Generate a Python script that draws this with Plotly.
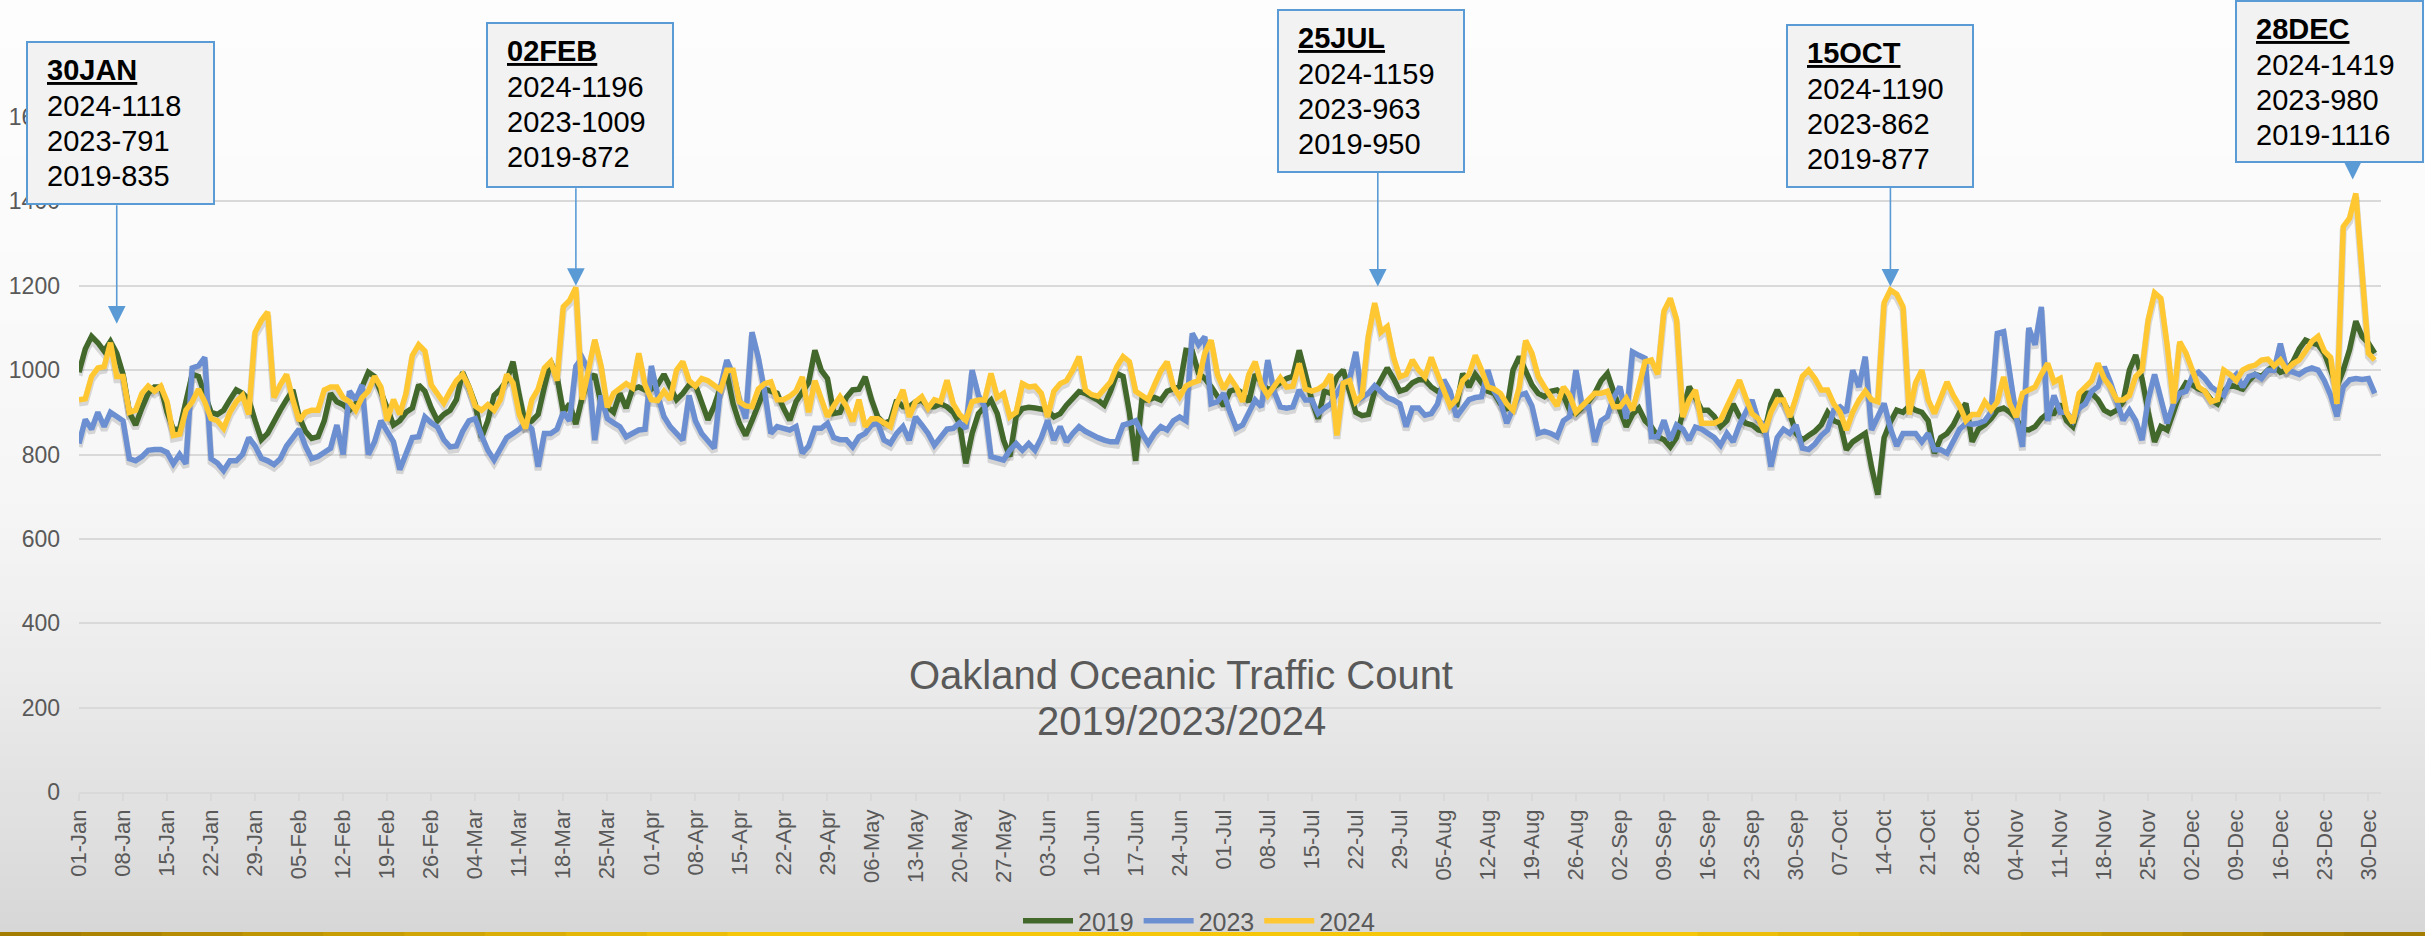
import plotly.graph_objects as go
import pandas as pd

# ---------------- data ----------------
dates = pd.date_range("2024-01-01", periods=366, freq="D")

y2019 = [
    995, 1050, 1080, 1065, 1045, 1068, 1040, 990, 900, 870, 910, 945, 960, 960, 900, 860, 860, 920, 990, 985,
    940, 900, 895, 905, 930, 953, 945, 930, 880, 835, 850, 880, 905, 930, 953, 890, 855, 838, 842, 880,
    945, 925, 918, 905, 920, 960, 995, 985, 950, 910, 870, 880, 900, 910, 965,
    950, 910, 880, 895, 905, 930, 995, 960, 920, 840, 880, 940, 955, 975, 1020, 940, 870, 880, 895, 960,
    1020, 985, 900, 920, 872, 935, 975, 990, 920, 913, 900, 945, 910, 955, 960, 953, 955, 965, 990, 960,
    930, 945, 965, 965, 920, 882, 915, 960, 992, 920, 874, 845, 880, 915, 955, 950,
    945, 910, 881, 925, 945, 970, 1047, 1000, 980, 897, 900, 935, 953, 955, 984, 930, 889, 874, 880, 929,
    913, 913, 925, 929, 913, 913, 920, 913, 900, 874, 779, 850, 897, 913, 929, 897, 834, 795, 890, 909,
    912, 910, 906, 905, 889, 897, 917, 933, 949, 945, 937, 929, 917, 950, 992, 985,
    900, 785, 930, 929, 935, 929, 950, 955, 961, 1047, 1045, 992, 980, 961, 940, 915, 950, 955, 945, 925,
    990, 970, 953, 960, 970, 980, 985, 1047, 990, 929, 885, 950, 945, 984, 1000, 955, 900, 892, 895, 950,
    975, 1005, 980, 950, 955, 970, 977, 977, 960, 950, 955, 940, 913, 992, 960, 990,
    970, 950, 945, 920, 905, 1000, 1032, 1000, 965, 945, 937, 950, 953, 940, 905, 897, 910, 925, 945, 975,
    992, 945, 905, 866, 895, 910, 880, 866, 842, 835, 818, 840, 900, 961, 935, 905, 905, 890, 866, 880,
    920, 890, 874, 870, 858, 855, 920, 953, 925, 897, 850, 834, 845, 855, 870, 900, 880,
    874, 811, 830, 840, 850, 770, 705, 840, 877, 905, 900, 915, 905, 900, 880, 803, 840, 850, 870, 900,
    921, 830, 860, 870, 885, 905, 910, 900, 885, 860, 858, 866, 885, 897, 897, 920, 880, 866, 920, 945,
    945, 930, 905, 897, 905, 925, 1000, 1036, 980, 900, 830, 866, 858, 900, 945, 970, 965, 955,
    950, 930, 920, 950, 965, 960, 955, 975, 990, 985, 1000, 1010, 995, 1000, 1020, 1050, 1071, 1065, 1060, 1040,
    1000, 960, 1000, 1048, 1116, 1080, 1064, 1040,
]

y2023 = [
    826, 883, 860, 900, 866, 900, 890, 880, 790, 785, 795, 810, 812, 812, 805, 778, 800, 778, 1005, 1010,
    1030, 790, 780, 762, 785, 785, 800, 840, 820, 791, 785, 776, 790, 820, 840, 860, 820, 790, 795, 805,
    815, 870, 800, 950, 930, 965, 800, 830, 880, 855, 830, 764, 800, 840, 842,
    889, 875, 865, 835, 818, 820, 855, 880, 885, 845, 810, 787, 815, 840, 850, 860, 875, 860, 771, 850,
    850, 860, 900, 880, 1009, 1030, 1000, 834, 940, 885, 875, 866, 842, 850, 858, 860, 1010, 940, 890, 866,
    850, 834, 940, 880, 850, 834, 815, 960, 1024, 990, 930, 885, 1090, 1030, 950, 850,
    866, 862, 858, 866, 803, 820, 862, 862, 874, 840, 835, 835, 818, 842, 850, 870, 874, 834, 826, 850,
    866, 834, 889, 870, 850, 822, 840, 860, 862, 875, 862, 1000, 940, 913, 795, 792, 787, 810, 826, 810,
    826, 810, 840, 881, 834, 866, 830, 850, 866, 855, 846, 840, 834, 830, 830, 870,
    874, 880, 850, 826, 850, 866, 858, 880, 889, 880, 1087, 1060, 1079, 920, 925, 945, 900, 862, 870, 900,
    929, 913, 1024, 950, 913, 910, 913, 953, 929, 929, 897, 910, 920, 945, 970, 977, 1043, 935, 945, 963,
    950, 935, 929, 920, 866, 910, 910, 893, 897, 920, 977, 950, 889, 910, 930, 935,
    937, 1000, 950, 925, 874, 910, 940, 945, 915, 850, 855, 850, 842, 880, 890, 1000, 913, 913, 830, 880,
    890, 935, 961, 885, 1043, 1035, 1028, 842, 842, 881, 834, 870, 860, 834, 865, 860, 850, 840, 822, 850,
    830, 870, 900, 929, 880, 870, 771, 840, 860, 850, 870, 815, 812, 825, 845, 858, 905,
    913, 900, 1000, 960, 1032, 858, 890, 921, 862, 820, 850, 850, 850, 830, 850, 811, 811, 803, 830, 860,
    874, 872, 874, 880, 900, 1087, 1091, 980, 890, 818, 1100, 1060, 1150, 880, 940, 900, 900, 880, 910, 920,
    950, 961, 1008, 970, 925, 881, 905, 880, 834, 930, 990, 930, 874, 920, 945, 950, 985, 995,
    980, 960, 950, 940, 975, 990, 960, 985, 990, 980, 1000, 1000, 1063, 1000, 995, 990, 1000, 1005, 1000, 975,
    940, 890, 960, 977, 980, 978, 980, 945,
]

y2024 = [
    930, 932, 985, 1005, 1008, 1065, 985, 985, 900, 905, 945, 962, 950, 962, 925, 845, 848, 905, 925, 955,
    925, 885, 880, 862, 900, 925, 940, 895, 1090, 1118, 1138, 935, 965, 990, 930, 880, 900, 905, 905, 953,
    960, 960, 935, 925, 905, 935, 950, 985, 960, 880, 930, 895, 945, 1035, 1060,
    1045, 965, 945, 922, 950, 975, 990, 960, 915, 905, 918, 905, 930, 990, 970, 895, 862, 930, 955, 1005,
    1020, 975, 1150, 1165, 1196, 930, 1000, 1072, 1010, 912, 945, 958, 968, 958, 1040, 965, 930, 928, 950, 930,
    1000, 1020, 975, 962, 980, 975, 965, 953, 1000, 1000, 925, 915, 913, 955, 968, 972,
    930, 930, 938, 950, 984, 900, 975, 935, 890, 915, 937, 915, 878, 930, 866, 885, 885, 875, 866, 920,
    953, 889, 925, 937, 910, 930, 925, 976, 920, 895, 881, 925, 929, 929, 992, 935, 945, 889, 900, 968,
    960, 962, 945, 889, 950, 968, 975, 1000, 1032, 953, 942, 938, 955, 972, 1008, 1032,
    1020, 950, 940, 930, 965, 998, 1020, 960, 937, 962, 970, 975, 1040, 1071, 990, 955, 982, 960, 925, 990,
    1020, 965, 940, 960, 982, 960, 962, 1016, 955, 950, 955, 965, 990, 845, 969, 975, 925, 940, 1080, 1159,
    1090, 1103, 1030, 984, 990, 1024, 1000, 984, 1030, 990, 950, 915, 930, 975, 990, 1035,
    1000, 960, 955, 945, 920, 905, 960, 1070, 1040, 985, 960, 935, 915, 960, 940, 900, 915, 929, 945, 945,
    950, 913, 913, 933, 905, 960, 1020, 1024, 990, 1140, 1170, 1120, 889, 930, 953, 874, 874, 874, 882, 915,
    945, 976, 935, 897, 885, 854, 900, 929, 929, 889, 935, 985, 1000, 980, 953, 953, 920,
    900, 858, 900, 929, 950, 930, 925, 1160, 1190, 1180, 1150, 895, 970, 1000, 930, 897, 935, 972, 940, 915,
    880, 895, 895, 925, 905, 925, 984, 920, 889, 945, 953, 960, 990, 1016, 972, 980, 900, 875, 945, 960,
    975, 1016, 980, 960, 929, 929, 940, 985, 1000, 1120, 1183, 1170, 1060, 921, 1067, 1040, 1000, 960,
    950, 925, 930, 1000, 990, 975, 1000, 1008, 1012, 1024, 1026, 1010, 1024, 1000, 1015, 1024, 1045, 1068, 1080, 1045,
    1030, 920, 1340, 1360, 1419, 1240, 1040, 1024,
]

series_names = ["2019", "2023", "2024"]
series_values = [y2019, y2023, y2024]

y_ticks = [0, 200, 400, 600, 800, 1000, 1200, 1400, 1600]

callout_labels = ["30JAN", "02FEB", "25JUL", "15OCT", "28DEC"]
callout_2024 = [1118, 1196, 1159, 1190, 1419]
callout_2023 = [791, 1009, 963, 862, 980]
callout_2019 = [835, 872, 950, 877, 1116]
callout_dates = ["2024-01-07", "2024-03-20", "2024-07-25 12:00", "2024-10-15", "2024-12-27 12:00"]
callout_tip_values = [1110, 1200, 1198, 1198, 1452]

title_lines = ["Oakland Oceanic Traffic Count", "2019/2023/2024"]

# ---------------- styling / layout geometry ----------------
W, H = 2425, 936
PL, PR, PT, PB = 79, 2381, 117, 792   # plot area in pixels
colors = ["#43682B", "#6C8FD1", "#FFC832"]
GRID = "#D9D9D9"
TXT = "#595959"
FONT = "Liberation Sans, Arial, sans-serif"

def px_x(p):
    return (p - PL) / (PR - PL)

def px_y(p):
    return (PB - p) / (PB - PT)

# callout box pixel rectangles (x0, x1, y0, y1) and arrow tail offsets
boxes_px = [(27, 214, 42, 204), (487, 673, 23, 187), (1278, 1464, 10, 172),
            (1787, 1973, 25, 187), (2236, 2423, 1, 162)]
arrow_ay = [-120, -99, -115, -100, -18]
line_offsets = [28, 64, 99, 134]   # text line centers below box top

fig = go.Figure()

# shadows
for vals in series_values:
    fig.add_trace(go.Scatter(
        x=dates, y=[v - 8 for v in vals], mode="lines",
        line=dict(color="rgba(40,40,40,0.16)", width=7),
        showlegend=False, hoverinfo="skip"))

for name, vals, c in zip(series_names, series_values, colors):
    fig.add_trace(go.Scatter(
        x=dates, y=vals, mode="lines", name=name,
        line=dict(color=c, width=5.5)))

shapes = []
# background gradient
def bg_level(p):
    pts = [(0, 253), (300, 250), (520, 245), (620, 239), (936, 215)]
    for (a, va), (b, vb) in zip(pts[:-1], pts[1:]):
        if a <= p <= b:
            return va + (vb - va) * (p - a) / (b - a)
    return pts[-1][1]

step = 12
for p in range(0, H, step):
    g = int(round(bg_level(p + step / 2)))
    shapes.append(dict(type="rect", xref="paper", yref="paper",
                       x0=px_x(0), x1=px_x(W), y0=px_y(min(p + step + 1, H)), y1=px_y(p),
                       fillcolor=f"rgb({g},{g},{g})", line=dict(width=0), layer="below"))

# gold bottom band
nseg = 30
for i in range(nseg):
    t = (i + 0.5) / nseg
    k = 1 - abs(t - 0.5) * 2
    k = min(1.0, k * 1.6)
    r = int(160 + (245 - 160) * k)
    gg = int(120 + (198 - 120) * k)
    b = int(0 + 10 * k)
    shapes.append(dict(type="rect", xref="paper", yref="paper",
                       x0=px_x(W * i / nseg), x1=px_x(W * (i + 1) / nseg + 1),
                       y0=px_y(H), y1=px_y(H - 4),
                       fillcolor=f"rgb({r},{gg},{b})", line=dict(width=0), layer="above"))

# callout boxes
for (x0, x1, y0, y1) in boxes_px:
    shapes.append(dict(type="rect", xref="paper", yref="paper",
                       x0=px_x(x0), x1=px_x(x1), y0=px_y(y1), y1=px_y(y0),
                       fillcolor="#F2F2F2", line=dict(color="#5B9BD5", width=2), layer="above"))

annotations = []
for i, lab in enumerate(callout_labels):
    x0, x1, y0, y1 = boxes_px[i]
    lines = [f"<b><u>{lab}</u></b>", f"2024-{callout_2024[i]}",
             f"2023-{callout_2023[i]}", f"2019-{callout_2019[i]}"]
    for ln, off in zip(lines, line_offsets):
        annotations.append(dict(xref="paper", yref="paper", x=px_x(x0 + 19), y=px_y(y0 + off),
                                xanchor="left", yanchor="middle", align="left", showarrow=False,
                                borderpad=0, text=ln,
                                font=dict(family=FONT, size=29, color="#000000")))
    annotations.append(dict(xref="x", yref="y", x=callout_dates[i], y=callout_tip_values[i],
                            text="", showarrow=True, ax=0, ay=arrow_ay[i],
                            arrowhead=2, arrowsize=2.2, arrowwidth=1.6,
                            arrowcolor="#5B9BD5", standoff=0))

annotations.append(dict(xref="paper", yref="paper", x=px_x(1181), y=px_y(675),
                        xanchor="center", yanchor="middle", showarrow=False,
                        text=title_lines[0], font=dict(family=FONT, size=40, color=TXT)))
annotations.append(dict(xref="paper", yref="paper", x=px_x(1181), y=px_y(721),
                        xanchor="center", yanchor="middle", showarrow=False,
                        text=title_lines[1], font=dict(family=FONT, size=40, color=TXT)))

fig.update_layout(
    width=W, height=H,
    margin=dict(l=PL, r=W - PR, t=PT, b=H - PB, autoexpand=False),
    paper_bgcolor="#FFFFFF", plot_bgcolor="rgba(0,0,0,0)",
    shapes=shapes, annotations=annotations,
    showlegend=True,
    legend=dict(orientation="h", x=px_x(1199), xanchor="center", y=px_y(921), yanchor="middle",
                font=dict(family=FONT, size=25, color=TXT), bgcolor="rgba(0,0,0,0)",
                traceorder="normal", itemwidth=50),
    xaxis=dict(type="date", range=["2024-01-01", "2025-01-01"],
               tick0="2024-01-01", dtick=7 * 86400000, tickformat="%d-%b",
               tickangle=-90, tickfont=dict(family=FONT, size=22, color=TXT),
               showgrid=False, showline=True, linecolor=GRID, linewidth=1.5,
               ticks="outside", ticklen=7, tickwidth=1.5, tickcolor=GRID, zeroline=False,
               automargin=False),
    yaxis=dict(range=[0, 1600], tickvals=y_ticks, tickfont=dict(family=FONT, size=23, color=TXT),
               showgrid=True, gridcolor=GRID, gridwidth=1.5, zeroline=False, showline=False,
               ticks="", ticklabelstandoff=18, automargin=False),
    hovermode=False,
)

fig.write_html(
    "out.html",
    config={"displayModeBar": False},
    post_script="document.body.style.margin='0';document.documentElement.style.overflow='hidden';",
)
